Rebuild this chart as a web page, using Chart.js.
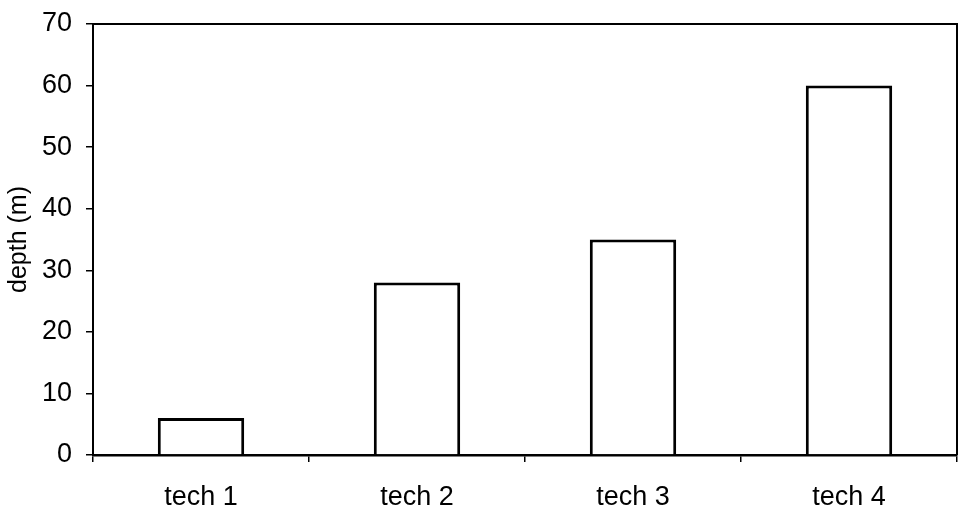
<!DOCTYPE html>
<html><head><meta charset="utf-8">
<script src="https://cdn.jsdelivr.net/npm/chart.js@4.4.0/dist/chart.umd.min.js"></script>
<style>html,body{margin:0;padding:0;background:#fff;}#wrap{width:963px;height:524px;}</style>
</head><body><div id="wrap"><canvas id="c" width="963" height="524"></canvas></div>
<script>
const categories = ["tech 1", "tech 2", "tech 3", "tech 4"];
const depthValues = [6, 28, 35, 60];
const yTicks = [0, 10, 20, 30, 40, 50, 60, 70];
const yTitle = "depth (m)";

const boxPlugin = {
  id: 'box',
  afterDraw(chart) {
    const {ctx, chartArea: a} = chart;
    ctx.save();
    ctx.strokeStyle = '#000';
    ctx.lineWidth = 2;
    ctx.beginPath();
    ctx.moveTo(a.left, a.top);
    ctx.lineTo(a.right, a.top);
    ctx.lineTo(a.right, a.bottom);
    ctx.stroke();
    ctx.restore();
  }
};

const FONT = 'Liberation Sans, Arial';

new Chart(document.getElementById('c'), {
  type: 'bar',
  data: {
    labels: categories,
    datasets: [{
      data: depthValues,
      backgroundColor: '#ffffff',
      borderColor: '#000000',
      borderWidth: 3,
      borderSkipped: 'bottom',
      categoryPercentage: 1.0,
      barPercentage: 0.4
    }]
  },
  options: {
    responsive: false,
    animation: false,
    events: [],
    layout: { padding: { top: 24, right: 6, left: 0, bottom: 0 } },
    plugins: { legend: { display: false }, tooltip: { enabled: false } },
    scales: {
      x: {
        grid: { display: true, drawOnChartArea: false, drawTicks: true, tickLength: 7, color: '#000', lineWidth: 1.5 },
        border: { display: true, color: '#000', width: 2.5 },
        ticks: { color: '#000', font: { family: FONT, size: 27 }, padding: 19 },
        afterFit(scale) { scale.height = 524 - 455; scale.paddingLeft = 0; scale.paddingRight = 0; }
      },
      y: {
        min: 0, max: 70,
        afterBuildTicks(scale) { scale.ticks = yTicks.map(v => ({ value: v })); },
        grid: { display: true, drawOnChartArea: false, drawTicks: true, tickLength: 7, color: '#000', lineWidth: 1.5 },
        border: { display: true, color: '#000', width: 2 },
        ticks: { color: '#000', font: { family: FONT, size: 27 }, padding: 14 },
        title: { display: true, text: yTitle, color: '#000', font: { family: FONT, size: 25 }, padding: { top: 4, bottom: 0 } },
        afterFit(scale) { scale.width = 93; scale.paddingTop = 0; scale.paddingBottom = 0; }
      }
    }
  },
  plugins: [boxPlugin]
});
</script></body></html>
